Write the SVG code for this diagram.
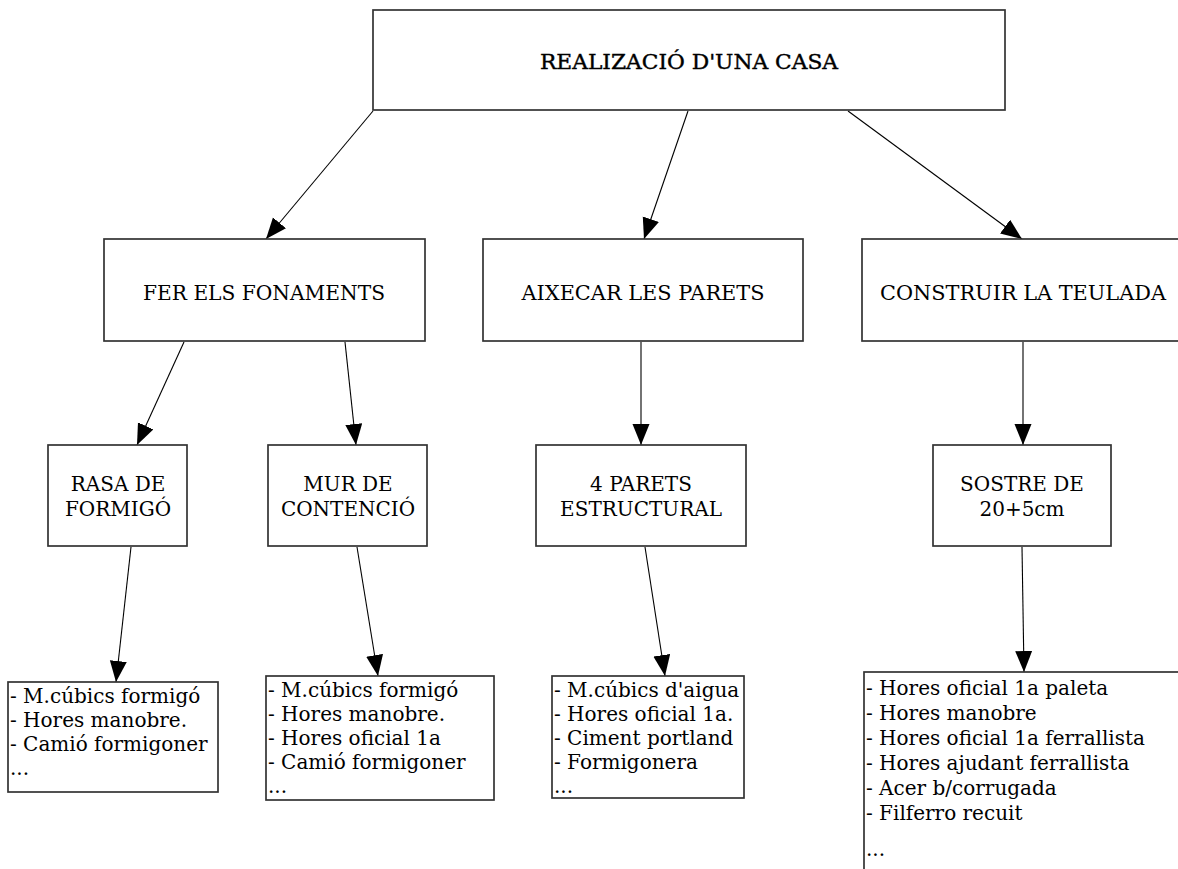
<svg xmlns="http://www.w3.org/2000/svg" width="1178" height="869" viewBox="0 0 1178 869">
  <style>
    .box { fill: #fff; stroke: #333; stroke-width: 1.7; }
    .hd { font-family: "DejaVu Serif", "Liberation Serif", serif; font-size: 20px; fill: #000; text-anchor: middle; }
    .title { font-family: "DejaVu Serif", "Liberation Serif", serif; font-size: 20px; fill: #000; text-anchor: middle; stroke: #000; stroke-width: 0.4; }
    .li { font-family: "DejaVu Serif", "Liberation Serif", serif; font-size: 20px; fill: #000; }
    .conn line { stroke: #000; stroke-width: 1.1; marker-end: url(#arrow); }
  </style>
  <defs>
    <marker id="arrow" markerUnits="userSpaceOnUse" markerWidth="24" markerHeight="18" refX="21" refY="8.5" orient="auto">
      <path d="M0,0 L21,8.5 L0,17 Z" fill="#000"/>
    </marker>
  </defs>
  <rect width="1178" height="869" fill="#fff"/>

  <!-- connectors -->
  <g id="connectors" class="conn">
    <line x1="373" y1="111" x2="266" y2="239"/>
    <line x1="688" y1="111" x2="644" y2="239"/>
    <line x1="848" y1="111" x2="1022" y2="239"/>
    <line x1="184" y1="342" x2="137" y2="445"/>
    <line x1="345" y1="342" x2="356" y2="445"/>
    <line x1="641" y1="342" x2="641" y2="445"/>
    <line x1="1023" y1="342" x2="1023" y2="445"/>
    <line x1="131" y1="547" x2="116" y2="682"/>
    <line x1="357" y1="547" x2="378" y2="676"/>
    <line x1="645" y1="547" x2="665" y2="676"/>
    <line x1="1022" y1="547" x2="1024" y2="672"/>
  </g>

  <!-- root -->
  <g id="casa">
    <rect class="box" x="373" y="10" width="632" height="100"/>
    <text class="title" x="689" y="69" textLength="298" lengthAdjust="spacingAndGlyphs">REALIZACIÓ D'UNA CASA</text>
  </g>

  <!-- second level -->
  <g id="fonaments">
    <rect class="box" x="104" y="239" width="321" height="102"/>
    <text class="hd" x="264" y="300" textLength="242" lengthAdjust="spacingAndGlyphs">FER ELS FONAMENTS</text>
  </g>
  <g id="parets">
    <rect class="box" x="483" y="239" width="320" height="102"/>
    <text class="hd" x="643" y="300" textLength="243" lengthAdjust="spacingAndGlyphs">AIXECAR LES PARETS</text>
  </g>
  <g id="teulada">
    <rect class="box" x="862" y="239" width="330" height="102"/>
    <text class="hd" x="1023" y="300" textLength="286" lengthAdjust="spacingAndGlyphs">CONSTRUIR LA TEULADA</text>
  </g>

  <!-- third level -->
  <g id="rasa">
    <rect class="box" x="48" y="445" width="139" height="101"/>
    <text class="hd" x="118" y="491">RASA DE</text>
    <text class="hd" x="118" y="516">FORMIGÓ</text>
  </g>
  <g id="mur">
    <rect class="box" x="268" y="445" width="159" height="101"/>
    <text class="hd" x="348" y="491">MUR DE</text>
    <text class="hd" x="348" y="516">CONTENCIÓ</text>
  </g>
  <g id="parets4">
    <rect class="box" x="536" y="445" width="210" height="101"/>
    <text class="hd" x="641" y="491">4 PARETS</text>
    <text class="hd" x="641" y="516">ESTRUCTURAL</text>
  </g>
  <g id="sostre">
    <rect class="box" x="933" y="445" width="178" height="101"/>
    <text class="hd" x="1022" y="491">SOSTRE DE</text>
    <text class="hd" x="1022" y="516">20+5cm</text>
  </g>

  <!-- resource lists -->
  <g id="llista-rasa">
    <rect class="box" x="8" y="682" width="210" height="110"/>
    <text class="li" x="10" y="703">- M.cúbics formigó</text>
    <text class="li" x="10" y="727">- Hores manobre.</text>
    <text class="li" x="10" y="751">- Camió formigoner</text>
    <text class="li" x="10" y="775">...</text>
  </g>
  <g id="llista-mur">
    <rect class="box" x="266" y="676" width="228" height="124"/>
    <text class="li" x="268" y="697">- M.cúbics formigó</text>
    <text class="li" x="268" y="721">- Hores manobre.</text>
    <text class="li" x="268" y="745">- Hores oficial 1a</text>
    <text class="li" x="268" y="769">- Camió formigoner</text>
    <text class="li" x="268" y="793">...</text>
  </g>
  <g id="llista-parets">
    <rect class="box" x="552" y="676" width="192" height="122"/>
    <text class="li" x="554" y="697">- M.cúbics d'aigua</text>
    <text class="li" x="554" y="721">- Hores oficial 1a.</text>
    <text class="li" x="554" y="745">- Ciment portland</text>
    <text class="li" x="554" y="769">- Formigonera</text>
    <text class="li" x="554" y="793">...</text>
  </g>
  <g id="llista-sostre">
    <rect class="box" x="864" y="672" width="330" height="210"/>
    <text class="li" x="866" y="695">- Hores oficial 1a paleta</text>
    <text class="li" x="866" y="720">- Hores manobre</text>
    <text class="li" x="866" y="745">- Hores oficial 1a ferrallista</text>
    <text class="li" x="866" y="770">- Hores ajudant ferrallista</text>
    <text class="li" x="866" y="795">- Acer b/corrugada</text>
    <text class="li" x="866" y="820">- Filferro recuit</text>
    <text class="li" x="866" y="856">...</text>
  </g>
</svg>
